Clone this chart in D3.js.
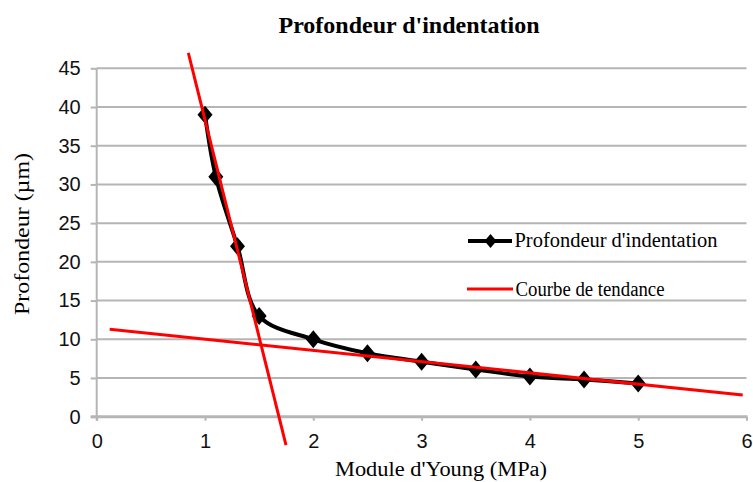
<!DOCTYPE html>
<html>
<head>
<meta charset="utf-8">
<script src="https://cdn.jsdelivr.net/npm/d3@7"></script>
<style>
  html, body { margin: 0; padding: 0; background: #fff; }
  svg { display: block; }
</style>
</head>
<body>
<svg id="chart" width="753" height="482"></svg>
<script>
// Indentation depth measured against Young's modulus
const moduleYoung = [1, 1.1, 1.3, 1.5, 2, 2.5, 3, 3.5, 4, 4.5, 5];
const profondeur = [39, 31, 22, 13, 10, 8.2, 7.1, 6.1, 5.2, 4.8, 4.3];

// Two straight trend lines (end points, in data units)
const tendanceRaideX = [0.846, 1.748];
const tendanceRaideY = [47.0, -3.66];
const tendancePlateX = [0.12, 5.965];
const tendancePlateY = [11.3, 2.8];

const xTicks = [0, 1, 2, 3, 4, 5, 6];
const yTicks = [0, 5, 10, 15, 20, 25, 30, 35, 40, 45];

const titre = "Profondeur d'indentation";
const titreX = "Module d'Young (MPa)";
const titreY = "Profondeur (µm)";
const legende = ["Profondeur d'indentation", "Courbe de tendance"];

const svg = d3.select("#chart");
const plotLeft = 96.7, plotRight = 746.5, plotTop = 68.3, plotBottom = 416.7;

const x = d3.scaleLinear().domain([0, 6]).range([plotLeft, plotRight]);
const y = d3.scaleLinear().domain([0, 45]).range([plotBottom, plotTop]);

const grey = "#b5b5b5";
const serif = "'Liberation Serif', 'Times New Roman', serif";
const sans = "'Liberation Sans', Arial, sans-serif";

// Horizontal gridlines
svg.append("g")
  .selectAll("line")
  .data(yTicks.filter(d => d > 0))
  .join("line")
  .attr("x1", plotLeft).attr("x2", plotRight)
  .attr("y1", d => y(d)).attr("y2", d => y(d))
  .attr("stroke", grey).attr("stroke-width", 2);

// Y axis
const yAxis = svg.append("g")
  .attr("transform", `translate(${plotLeft},0)`)
  .call(d3.axisLeft(y).tickValues(yTicks).tickFormat(d3.format("d")).tickSize(6).tickPadding(10));
yAxis.select(".domain").attr("stroke", grey).attr("stroke-width", 2)
  .attr("d", `M0,${plotTop}V${plotBottom + 4}`);
yAxis.selectAll(".tick line").attr("stroke", grey).attr("stroke-width", 2);
yAxis.selectAll(".tick text")
  .attr("font-family", sans).attr("font-size", 20).attr("fill", "#111");

// X axis
const xAxis = svg.append("g")
  .attr("transform", `translate(0,${plotBottom})`)
  .call(d3.axisBottom(x).tickValues(xTicks).tickFormat(d3.format("d")).tickSize(4).tickPadding(13));
xAxis.select(".domain").attr("stroke", grey).attr("stroke-width", 3)
  .attr("d", `M${plotLeft - 6},0H${plotRight + 1}`);
xAxis.selectAll(".tick line").attr("stroke", grey).attr("stroke-width", 2);
xAxis.selectAll(".tick text")
  .attr("font-family", sans).attr("font-size", 20).attr("fill", "#111");

// Measured series
const serie = moduleYoung.map((v, i) => [v, profondeur[i]]);
const ligne = d3.line().x(d => x(d[0])).y(d => y(d[1])).curve(d3.curveCatmullRom.alpha(0.5));

svg.append("path")
  .attr("d", ligne(serie))
  .attr("fill", "none").attr("stroke", "#000").attr("stroke-width", 4)
  .attr("stroke-linejoin", "round");

const losange = (cx, cy, w, h) => `M${cx},${cy - h}L${cx + w},${cy}L${cx},${cy + h}L${cx - w},${cy}Z`;
svg.append("g")
  .selectAll("path")
  .data(serie)
  .join("path")
  .attr("d", d => losange(x(d[0]), y(d[1]), 7.5, 9))
  .attr("fill", "#000");

// Trend lines
const droite = d3.line().x(d => x(d[0])).y(d => y(d[1]));
[[tendanceRaideX, tendanceRaideY], [tendancePlateX, tendancePlateY]].forEach(([xs, ys]) => {
  svg.append("path")
    .attr("d", droite(xs.map((v, i) => [v, ys[i]])))
    .attr("fill", "none").attr("stroke", "#ff0000").attr("stroke-width", 3);
});

// Title
svg.append("text")
  .attr("x", 409).attr("y", 33)
  .attr("text-anchor", "middle")
  .attr("font-family", serif).attr("font-weight", "bold").attr("font-size", 23)
  .attr("textLength", 261).attr("lengthAdjust", "spacingAndGlyphs")
  .text(titre);

// Axis titles
svg.append("text")
  .attr("x", 441).attr("y", 476)
  .attr("text-anchor", "middle")
  .attr("font-family", serif).attr("font-size", 20)
  .attr("textLength", 212).attr("lengthAdjust", "spacingAndGlyphs")
  .text(titreX);

svg.append("text")
  .attr("transform", "translate(29,234) rotate(-90)")
  .attr("text-anchor", "middle")
  .attr("font-family", serif).attr("font-size", 20)
  .attr("textLength", 162).attr("lengthAdjust", "spacingAndGlyphs")
  .text(titreY);

// Legend
const leg = svg.append("g");
leg.append("line")
  .attr("x1", 468).attr("x2", 512).attr("y1", 241).attr("y2", 241)
  .attr("stroke", "#000").attr("stroke-width", 4);
leg.append("path").attr("d", losange(490.5, 241, 6, 7)).attr("fill", "#000");
leg.append("text")
  .attr("x", 514.5).attr("y", 247)
  .attr("font-family", serif).attr("font-size", 20)
  .attr("textLength", 203).attr("lengthAdjust", "spacingAndGlyphs")
  .text(legende[0]);

leg.append("line")
  .attr("x1", 467).attr("x2", 513).attr("y1", 289).attr("y2", 289)
  .attr("stroke", "#ff0000").attr("stroke-width", 3);
leg.append("text")
  .attr("x", 515.5).attr("y", 296)
  .attr("font-family", serif).attr("font-size", 20)
  .attr("textLength", 149).attr("lengthAdjust", "spacingAndGlyphs")
  .text(legende[1]);
</script>
</body>
</html>
